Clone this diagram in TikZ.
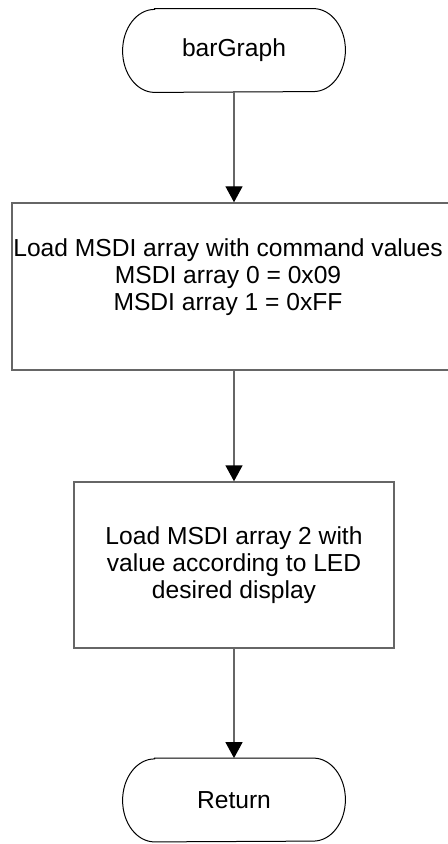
\documentclass[tikz,border=0pt]{standalone}
\usepackage{fontspec}
\setmainfont{Liberation Sans}
\usepackage{tikz}
\usetikzlibrary{arrows.meta,positioning}
\definecolor{flowgray}{HTML}{666666}

\begin{document}
\begin{tikzpicture}[x=0.5pt, y=-0.5pt,
  every node/.style={font=\fontsize{12.3}{13.5}\selectfont},
  termbox/.style={minimum width=111pt, minimum height=41.5pt, inner sep=0pt},
  termline/.style={draw=black, line width=0.5pt},
  procbox/.style={draw=flowgray, line width=0.7pt, inner sep=0pt},
  flow/.style={draw=flowgray, line width=0.7pt,
    -{Triangle[length=8pt, width=8.5pt, color=black]}}]
  \useasboundingbox (0,0) rectangle (448,844);

  \node[termbox] (start) at (234,50.5) {barGraph};
  \node[procbox, minimum width=222pt, minimum height=83.5pt] (load) at (234,286.5) {};
  \node[align=center, inner sep=0pt] (loadtext) at (228,277.5) {%
    Load MSDI array with command values\\
    MSDI array 0 = 0x09\\
    MSDI array 1 = 0xFF};
  \node[procbox, minimum width=160pt, minimum height=83pt, align=center] (setled) at (234,565) {%
    Load MSDI array 2 with\\
    value according to LED\\
    desired display};
  \node[termbox] (return) at (234,800) {Return};

  % terminal outlines with oval ends
  \foreach \t in {start,return}
    \draw[termline] ([xshift=16pt]\t.north west) -- ([xshift=-16pt]\t.north east)
      arc[start angle=90, end angle=-90, x radius=16pt, y radius=20.75pt]
      -- ([xshift=16pt]\t.south west)
      arc[start angle=270, end angle=90, x radius=16pt, y radius=20.75pt] -- cycle;

  % connectors
  \draw[flow] (start) -- (load);
  \draw[flow] (load) -- (setled);
  \draw[flow] (setled) -- (return);
\end{tikzpicture}
\end{document}
